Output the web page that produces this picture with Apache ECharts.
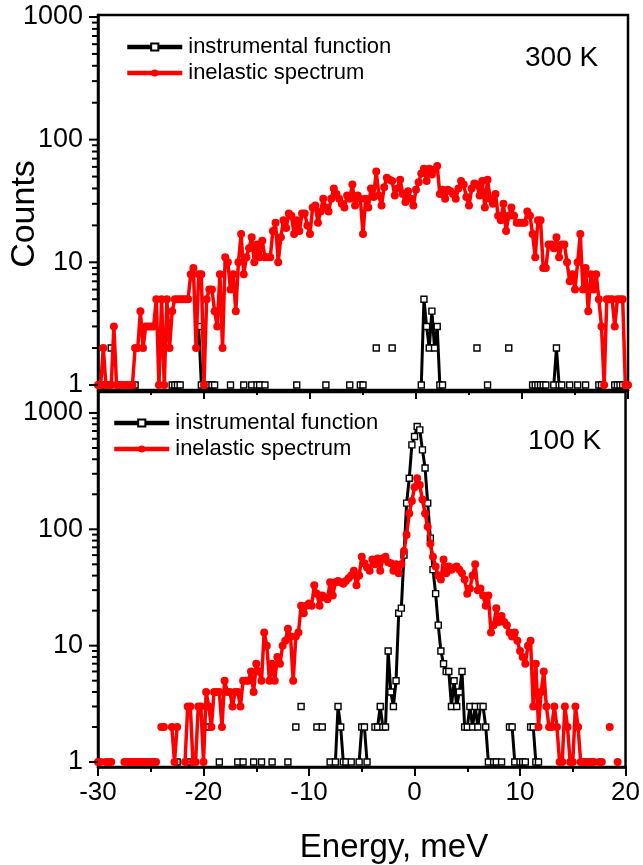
<!DOCTYPE html>
<html>
<head>
<meta charset="utf-8">
<title>Instrumental function and inelastic spectrum</title>
<script src="https://cdn.jsdelivr.net/npm/echarts@6/dist/echarts.min.js"></script>
<style>
  html, body { margin: 0; padding: 0; background: #fff; }
  #chart { width: 643px; height: 865px; }
</style>
</head>
<body>
<div id="chart"></div>
<script>
// energy channels: -30 meV .. 20 meV, one every 0.25 meV (201 channels)
var E_START = -30, E_STEP = 0.25;

// counts per channel, 0 = nothing counted (not drawable on a log axis)
var inelastic300 = [
  1,1,2,1,1,1,3,1,1,1,
  1,1,1,1,2,2,4,2,3,3,
  3,3,5,1,5,1,5,2,4,5,
  5,5,5,5,5,8,9,2,8,8,
  1,5,6,6,4,3,8,2,11,10,
  6,8,4,10,17,8,11,13,16,10,
  14,11,15,11,11,11,18,21,10,16,
  22,19,25,24,17,22,18,25,25,20,
  17,28,29,21,26,33,28,26,33,40,
  36,33,30,28,35,33,43,29,35,33,
  17,33,28,40,34,55,35,29,41,49,
  47,46,35,40,47,36,31,38,33,29,
  39,45,53,58,46,58,52,57,61,36,
  39,33,39,38,36,33,40,46,43,34,
  29,40,44,43,35,46,28,47,33,30,
  36,24,22,30,18,24,28,24,21,21,
  21,21,26,24,17,11,22,22,9,9,
  14,14,13,16,11,14,14,10,7,8,
  6,10,17,6,9,4,8,6,8,5,
  3,1,5,5,5,3,5,5,5,1,
  1
];
var instrumental300 = [
  0,1,0,1,0,2,0,0,0,0,
  0,0,0,0,1,0,0,0,0,0,
  0,0,0,0,0,0,0,0,1,1,
  1,1,0,0,0,0,0,0,3,1,
  0,0,1,1,1,0,0,0,0,0,
  1,0,0,0,0,1,0,0,1,0,
  1,1,0,1,0,0,0,0,0,0,
  0,0,0,0,0,1,0,0,0,0,
  0,0,0,0,0,0,1,0,0,0,
  0,0,0,0,0,1,0,0,0,1,
  1,0,0,0,0,2,0,0,0,0,
  0,2,0,0,0,0,0,0,0,0,
  0,0,1,5,3,2,4,2,3,1,
  1,0,0,0,0,0,0,0,0,0,
  0,0,0,2,0,0,0,1,0,0,
  0,0,0,0,0,2,0,0,0,0,
  0,0,0,0,1,1,1,1,1,1,
  0,0,1,2,1,1,0,0,1,0,
  0,1,0,0,1,0,0,0,0,1,
  1,0,0,0,0,1,1,1,1,0,
  0
];
var inelastic100 = [
  1,1,0,1,1,1,0,0,0,0,
  1,1,1,1,1,1,1,1,1,1,
  1,1,1,0,2,2,0,0,2,1,
  2,0,0,1,3,3,1,1,3,3,
  1,4,3,2,4,4,4,2,5,4,
  4,3,4,4,3,5,5,5,6,4,
  7,6,5,13,10,5,7,5,8,7,
  10,11,14,12,5,12,13,22,19,22,
  23,22,33,28,22,27,26,25,35,27,
  35,36,35,34,36,38,40,44,33,40,
  58,51,47,44,55,50,56,44,56,58,
  52,51,44,50,42,50,65,90,137,175,
  230,275,240,180,137,105,75,58,48,40,
  37,55,42,48,45,47,48,45,42,37,
  28,31,40,50,30,31,27,22,27,13,
  15,21,16,18,16,15,13,12,13,11,
  9,8,7,10,11,3,7,2,4,6,
  3,2,2,3,2,1,1,3,2,1,
  1,3,2,1,1,1,1,1,1,0,
  1,1,0,0,2,0,0,1,0,0,
  0
];
var instrumental100 = [
  0,0,0,0,0,0,0,0,0,0,
  0,0,0,0,0,0,0,0,0,0,
  0,0,0,0,0,0,0,0,0,0,
  1,0,0,0,0,1,0,0,0,0,
  0,0,2,0,0,0,1,0,0,0,
  0,0,0,1,0,1,0,0,0,1,
  0,0,1,0,0,0,1,0,0,0,
  0,0,1,0,0,2,0,3,0,0,
  0,0,0,2,0,2,0,0,1,0,
  1,3,2,1,1,0,1,0,0,1,
  2,2,1,0,0,2,2,3,2,2,
  9,4,3,5,19,21,60,168,275,532,
  627,764,716,482,336,168,84,45,28,15,
  9,7,6,6,3,5,3,4,6,2,
  2,3,2,3,2,3,3,2,1,0,
  1,1,0,1,0,0,2,2,1,0,
  1,1,1,0,2,2,1,1,0,0,
  0,0,0,0,0,0,0,0,0,0,
  0,0,0,0,0,0,0,0,0,0,
  0,0,0,0,0,0,0,0,0,0,
  0
];

var xTicks = { min: -30, max: 20, step: 10 };
var majorY = [1, 10, 100, 1000];
var minorY = [2,3,4,5,6,7,8,9,20,30,40,50,60,70,80,90,200,300,400,500,600,700,800,900];

var FONT = "'Liberation Sans', Arial, sans-serif";
var NAME_INST = 'instrumental function';
var NAME_INEL = 'inelastic spectrum';

function pairs(counts) {
  return counts.map(function (c, i) {
    return [E_START + i * E_STEP, c > 0 ? c : null];
  });
}

// log-axis ticks (1,2,...9,10,20,...) drawn at the left edge through the axis scale
function tickData() {
  var d = [];
  majorY.forEach(function (v) { d.push([xTicks.min, v, 1]); });
  minorY.forEach(function (v) { d.push([xTicks.min, v, 0]); });
  return d;
}

function tickSeries(idx) {
  return {
    type: 'custom',
    xAxisIndex: idx, yAxisIndex: idx,
    silent: true, z: 10,
    data: tickData(),
    renderItem: function (params, api) {
      var p = api.coord([api.value(0), api.value(1)]);
      var len = api.value(2) ? 8 : 5;
      return {
        type: 'line',
        shape: { x1: p[0] - len - 1, y1: p[1], x2: p[0], y2: p[1] },
        style: { stroke: '#000', lineWidth: 2 }
      };
    }
  };
}

function instSeries(idx, counts) {
  return {
    name: NAME_INST, type: 'line',
    xAxisIndex: idx, yAxisIndex: idx,
    data: pairs(counts),
    symbol: 'rect', symbolSize: 6,
    showAllSymbol: true,
    lineStyle: { color: '#000', width: 3 },
    itemStyle: { color: '#fff', borderColor: '#000', borderWidth: 1.4 },
    z: 3, animation: false
  };
}

function inelSeries(idx, counts) {
  return {
    name: NAME_INEL, type: 'line',
    xAxisIndex: idx, yAxisIndex: idx,
    data: pairs(counts),
    symbol: 'circle', symbolSize: 8,
    showAllSymbol: true,
    lineStyle: { color: '#ff0000', width: 3.5 },
    itemStyle: { color: '#ff0000' },
    z: 4, animation: false
  };
}

function xAxis(idx, withLabels) {
  return {
    type: 'value', gridIndex: idx,
    min: xTicks.min, max: xTicks.max, interval: xTicks.step,
    axisLine: { show: true, onZero: false, lineStyle: { color: '#000', width: 2.5 } },
    axisTick: { show: true, length: 9, lineStyle: { color: '#000', width: 2 } },
    minorTick: { show: true, splitNumber: 2, length: 5, lineStyle: { color: '#000', width: 2 } },
    axisLabel: { show: withLabels, color: '#000', fontSize: 26, fontFamily: FONT, margin: 13 },
    splitLine: { show: false },
    minorSplitLine: { show: false }
  };
}

function yAxis(idx, min, max) {
  return {
    type: 'log', logBase: 10, gridIndex: idx,
    min: min, max: max,
    axisLine: { show: true, onZero: false, lineStyle: { color: '#000', width: 2.5 } },
    axisTick: { show: false },
    axisLabel: {
      color: '#000', fontSize: 27, fontFamily: FONT, margin: 15,
      showMinLabel: false, showMaxLabel: false,
      formatter: function (v) {
        var r = Math.round(v);
        return majorY.indexOf(r) >= 0 && Math.abs(v - r) < 1e-6 ? String(r) : '';
      }
    },
    splitLine: { show: false }
  };
}

function legend(left, top) {
  return {
    left: left, top: top, orient: 'vertical',
    data: [NAME_INST, NAME_INEL],
    itemWidth: 55, itemHeight: 9, itemGap: 4,
    selectedMode: false,
    lineStyle: { width: 4.5 },
    textStyle: { color: '#000', fontSize: 22, fontFamily: FONT, padding: [0, 0, 0, 1] }
  };
}

var chart = echarts.init(document.getElementById('chart'), null, { renderer: 'canvas' });

chart.setOption({
  backgroundColor: '#fff',
  animation: false,
  grid: [
    { left: 98, right: 15, top: 15, height: 375, show: true, borderColor: '#000', borderWidth: 2.5, backgroundColor: 'transparent' },
    { left: 98, right: 15, top: 392, height: 375, show: true, borderColor: '#000', borderWidth: 2.5, backgroundColor: 'transparent' }
  ],
  xAxis: [xAxis(0, false), xAxis(1, true)],
  yAxis: [yAxis(0, 0.91, 1038), yAxis(1, 0.906, 1514)],
  legend: [legend(120, 31), legend(107, 407)],
  graphic: [
    { type: 'text', left: 525, top: 44, style: { text: '300 K', fontSize: 28, fontFamily: FONT, fill: '#000' } },
    { type: 'text', left: 528, top: 427, style: { text: '100 K', fontSize: 28, fontFamily: FONT, fill: '#000' } },
    { type: 'text', x: 25, y: 214, rotation: Math.PI / 2,
      style: { text: 'Counts', fontSize: 34, fontFamily: FONT, fill: '#000', align: 'center', verticalAlign: 'middle' } },
    { type: 'text', x: 394, y: 848,
      style: { text: 'Energy, meV', fontSize: 33, fontFamily: FONT, fill: '#000', align: 'center', verticalAlign: 'middle' } }
  ],
  series: [
    instSeries(0, instrumental300),
    inelSeries(0, inelastic300),
    instSeries(1, instrumental100),
    inelSeries(1, inelastic100),
    tickSeries(0),
    tickSeries(1)
  ]
});
</script>
</body>
</html>
